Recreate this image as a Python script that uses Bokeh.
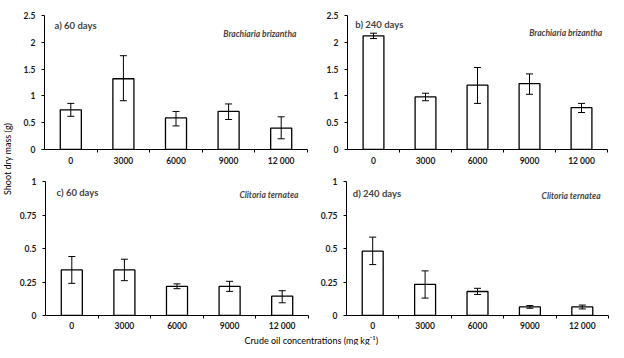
import numpy as np
from math import pi
from bokeh.plotting import figure
from bokeh.models import Range1d, FixedTicker, ColumnDataSource, Whisker, TeeHead, Label
from bokeh.layouts import row, column
from bokeh.embed import file_html
from bokeh.resources import INLINE

categories = ["0", "3000", "6000", "9000", "12 000"]

a_mean = [0.74, 1.32, 0.59, 0.71, 0.40]
a_lo = [0.62, 0.91, 0.44, 0.56, 0.20]
a_hi = [0.86, 1.75, 0.71, 0.85, 0.61]

b_mean = [2.12, 0.98, 1.20, 1.23, 0.78]
b_lo = [2.07, 0.91, 0.86, 1.03, 0.69]
b_hi = [2.17, 1.05, 1.53, 1.41, 0.86]

c_mean = [0.34, 0.34, 0.217, 0.217, 0.144]
c_lo = [0.24, 0.26, 0.20, 0.18, 0.095]
c_hi = [0.44, 0.42, 0.236, 0.255, 0.185]

d_mean = [0.48, 0.233, 0.179, 0.064, 0.064]
d_lo = [0.38, 0.13, 0.157, 0.054, 0.049]
d_hi = [0.585, 0.333, 0.203, 0.074, 0.078]

top_ticks = [0, 0.5, 1, 1.5, 2, 2.5]
top_tick_labels = ["0", "0.5", "1", "1.5", "2", "2.5"]
bottom_ticks = [0, 0.25, 0.5, 0.75, 1]
bottom_tick_labels = ["0", "0.25", "0.5", "0.75", "1"]

panel_tags = ["a) 60 days", "b) 240 days", "c)  60 days", "d) 240 days"]
species = ["Brachiaria brizantha", "Clitoria ternatea"]
y_title = "Shoot dry mass (g)"
x_title = "Crude oil concentrations (mg kg\u207b\u00b9)"

FONT = "Lato"


def panel(mean, lo, hi, ticks, tick_labels, tag, sp, frame_w, frame_h,
          mbl, mbr, mbt, mbb, standoff, tag_xy, sp_xy):
    n = len(categories)
    xs = np.arange(n) + 0.5
    p = figure(frame_width=frame_w, frame_height=frame_h,
               output_backend="svg", toolbar_location=None,
               x_range=Range1d(0, n), y_range=Range1d(0, ticks[-1]),
               min_border_left=mbl, min_border_right=mbr,
               min_border_top=mbt, min_border_bottom=mbb)
    p.outline_line_color = None
    p.grid.visible = False
    p.background_fill_color = "white"
    p.border_fill_color = "white"

    src = ColumnDataSource(dict(x=xs, mean=mean, lo=lo, hi=hi))
    p.vbar(x="x", top="mean", bottom=0, width=0.4, fill_color="white",
           line_color="black", line_width=1.3, source=src)
    w = Whisker(base="x", upper="hi", lower="lo", source=src, line_width=1,
                line_color="black", level="overlay",
                upper_head=TeeHead(size=7, line_width=1, line_color="black"),
                lower_head=TeeHead(size=7, line_width=1, line_color="black"))
    p.add_layout(w)

    xa = p.xaxis[0]
    xa.ticker = FixedTicker(ticks=list(xs), minor_ticks=list(range(1, n + 1)))
    xa.major_label_overrides = {float(x): c for x, c in zip(xs, categories)}
    xa.major_tick_line_color = None
    xa.major_tick_in = 0
    xa.major_tick_out = 0
    xa.minor_tick_in = 0
    xa.minor_tick_out = 3
    xa.minor_tick_line_color = "black"
    xa.axis_line_color = "black"
    xa.major_label_standoff = standoff
    xa.axis_label_standoff = 0
    xa.major_label_text_font = FONT
    xa.major_label_text_font_size = "8.5px"
    xa.major_label_text_font_style = "bold"
    xa.major_label_text_color = "#1a1a1a"

    ya = p.yaxis[0]
    ya.ticker = FixedTicker(ticks=ticks)
    ya.major_label_overrides = {float(t): l for t, l in zip(ticks, tick_labels)}
    ya.major_tick_in = 0
    ya.major_tick_out = 3
    ya.minor_tick_line_color = None
    ya.major_label_standoff = 6
    ya.axis_label_standoff = 0
    ya.major_label_text_font = FONT
    ya.major_label_text_font_size = "8.5px"
    ya.major_label_text_font_style = "bold"
    ya.major_label_text_color = "#1a1a1a"

    p.add_layout(Label(x=tag_xy[0], y=tag_xy[1], text=tag, text_font=FONT,
                       text_font_size="9.5px", text_font_style="bold",
                       text_baseline="middle", text_align="left"))
    p.add_layout(Label(x=sp_xy[0], y=sp_xy[1], text=sp, text_font=FONT,
                       text_font_size="8.5px", text_font_style="bold italic",
                       text_baseline="middle", text_align="right"))
    return p


pa = panel(a_mean, a_lo, a_hi, top_ticks, top_tick_labels, panel_tags[0], species[0],
           263, 134, 28, 3, 15, 18, 3, (0.19, 2.32), (4.79, 2.15))
pb = panel(b_mean, b_lo, b_hi, top_ticks, top_tick_labels, panel_tags[1], species[0],
           260, 134, 37, 1, 15, 18, 3, (0.15, 2.33), (4.9, 2.17))
pc = panel(c_mean, c_lo, c_hi, bottom_ticks, bottom_tick_labels, panel_tags[2], species[1],
           263, 134, 28, 3, 13, 16, 2, (0.21, 0.92), (4.81, 0.90))
pd = panel(d_mean, d_lo, d_hi, bottom_ticks, bottom_tick_labels, panel_tags[3], species[1],
           262, 134, 35, 1, 13, 16, 2, (0.12, 0.91), (4.85, 0.89))


def blank(width, height):
    f = figure(width=width, height=height, output_backend="svg", toolbar_location=None,
               x_range=Range1d(0, 1), y_range=Range1d(0, 1),
               x_axis_location=None, y_axis_location=None,
               min_border=0)
    f.outline_line_color = None
    f.grid.visible = False
    return f


yt = blank(16, 330)
yt.add_layout(Label(x=0.44, y=0.52, text=y_title, angle=pi / 2, text_font=FONT,
                    text_font_size="9px", text_align="center", text_baseline="middle",
                    text_color="black"))
xt = blank(592, 12)
xt.add_layout(Label(x=0.498, y=0.45, text=x_title, text_font=FONT,
                    text_font_size="9px", text_align="center", text_baseline="middle",
                    text_color="black"))

layout = row(yt, column(row(pa, pb), row(pc, pd), xt))

with open("out.html", "w") as fh:
    fh.write(file_html(layout, INLINE))
